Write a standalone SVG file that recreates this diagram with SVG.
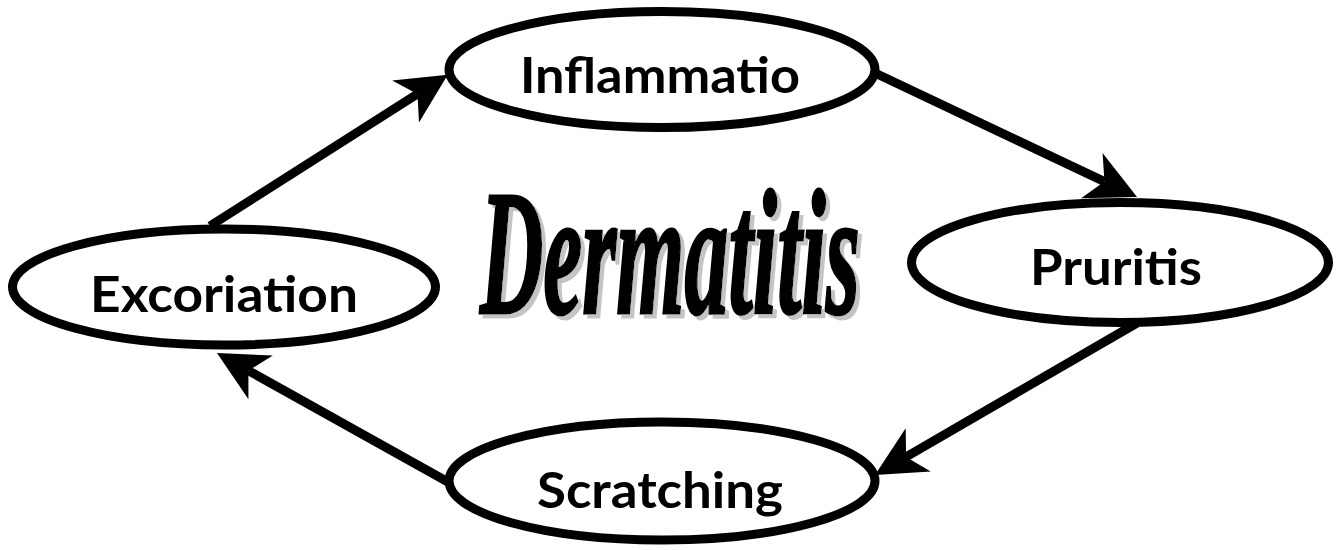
<svg xmlns="http://www.w3.org/2000/svg" width="1340" height="550" viewBox="0 0 1340 550">
<style>
.node ellipse{fill:#fff;stroke:#000;stroke-width:9}
.label{font-family:Lato,"Open Sans","Liberation Sans",sans-serif;font-weight:bold;font-size:49px;fill:#000;text-anchor:middle}
.conn line{stroke:#000;stroke-width:9}
.title{font-family:"Liberation Serif","DejaVu Serif",serif;font-style:italic;font-weight:bold;font-size:177px}
</style>
<defs>
<filter id="shadow" x="-5%" y="-5%" width="115%" height="115%">
<feDropShadow dx="4" dy="4" stdDeviation="0.5" flood-color="#c4c4c4" flood-opacity="1"/>
</filter>
<marker id="stealth" markerUnits="userSpaceOnUse" markerWidth="60" markerHeight="60" refX="14" refY="25" orient="auto" overflow="visible">
<path d="M50,25 L0,0 L14,25 L0,50 Z" fill="#000"/>
</marker>
</defs>
<rect width="1340" height="550" fill="#fff"/>
<g id="title" filter="url(#shadow)">
<text class="title" transform="translate(480,313) scale(0.5,1)" x="0" y="0" fill="#000" stroke="#000" stroke-width="3" textLength="760" lengthAdjust="spacingAndGlyphs">Dermatitis</text>
</g>
<g id="node-inflammatio" class="node">
<ellipse cx="662" cy="69.5" rx="213" ry="58"/>
<text class="label" x="660" y="93" textLength="280" lengthAdjust="spacingAndGlyphs">Inflammatio</text>
</g>
<g id="node-pruritis" class="node">
<ellipse cx="1120" cy="262.5" rx="208.5" ry="60"/>
<text class="label" x="1116" y="285" textLength="172" lengthAdjust="spacingAndGlyphs">Pruritis</text>
</g>
<g id="node-scratching" class="node">
<ellipse cx="662" cy="481" rx="213" ry="59"/>
<text class="label" x="660" y="508" textLength="246" lengthAdjust="spacingAndGlyphs">Scratching</text>
</g>
<g id="node-excoriation" class="node">
<ellipse cx="224" cy="287" rx="211.5" ry="58"/>
<text class="label" x="224" y="312" textLength="268" lengthAdjust="spacingAndGlyphs">Excoriation</text>
</g>
<g id="connectors" class="conn">
<line x1="210" y1="226" x2="417.4" y2="94" marker-end="url(#stealth)"/>
<line x1="875" y1="73" x2="1104.5" y2="181.6" marker-end="url(#stealth)"/>
<line x1="1137" y1="323" x2="906.1" y2="456.9" marker-end="url(#stealth)"/>
<line x1="448" y1="482" x2="248.4" y2="370.6" marker-end="url(#stealth)"/>
</g>
</svg>
